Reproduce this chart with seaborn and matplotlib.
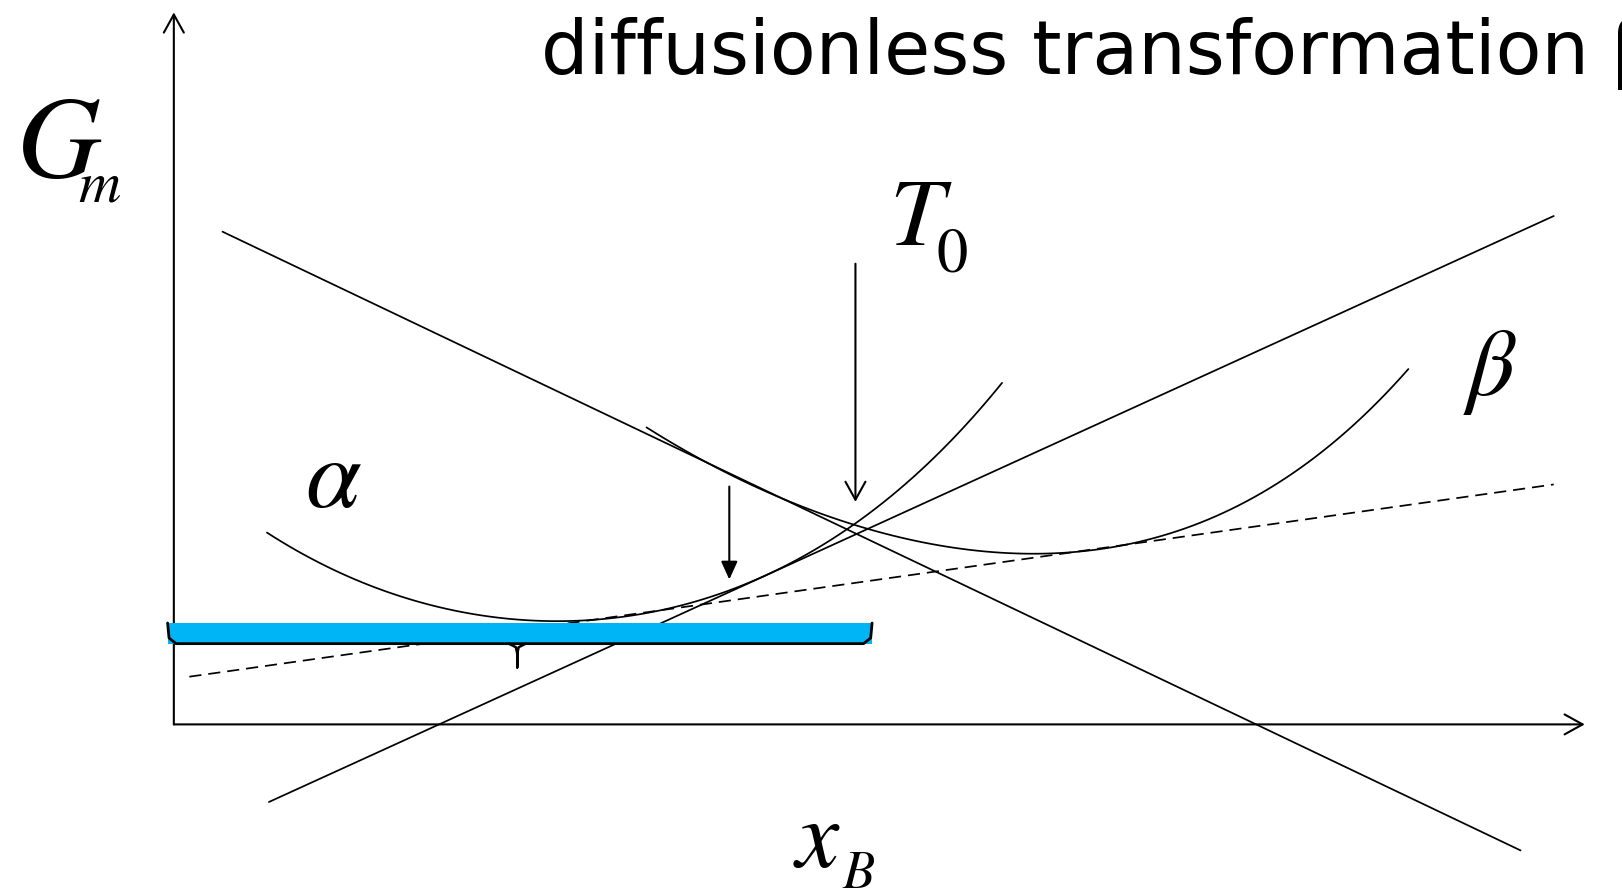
import numpy as np
import pandas as pd
import seaborn as sns
import matplotlib.pyplot as plt

# free energy curves (x_B, G_m)
alpha_x = [0.066, 0.097, 0.133, 0.170, 0.207, 0.243, 0.265, 0.287, 0.317,
           0.353, 0.390, 0.419, 0.449, 0.480, 0.515, 0.551, 0.587]
alpha_g = [0.269, 0.234, 0.200, 0.174, 0.156, 0.147, 0.145, 0.146, 0.152,
           0.164, 0.185, 0.209, 0.239, 0.277, 0.332, 0.400, 0.479]

beta_x = [0.335, 0.372, 0.408, 0.446, 0.480, 0.519, 0.556, 0.585, 0.600,
          0.614, 0.636, 0.657, 0.688, 0.724, 0.761, 0.798, 0.834, 0.875]
beta_g = [0.416, 0.375, 0.339, 0.306, 0.281, 0.259, 0.246, 0.241, 0.240,
          0.240, 0.243, 0.247, 0.259, 0.281, 0.314, 0.358, 0.416, 0.500]

# straight lines (end points)
desc_x, desc_g = [0.0345, 0.9545], [0.692, -0.177]
asc_x, asc_g = [0.0674, 0.978], [-0.109, 0.714]
common_x, common_g = [0.011, 0.978], [0.067, 0.337]

# arrows
t0_x, t0_g = 0.4831, [0.647, 0.3125]
small_x, small_g = 0.3937, [0.334, 0.2035]

# blue brace
brace_left, brace_right = -0.0044, 0.4949
brace_bottom, brace_top = 0.1134, 0.1424
brace_mid, brace_tip = 0.2434, 0.080

sns.set_style("white")
plt.rcParams["mathtext.fontset"] = "stix"
plt.rcParams["font.family"] = ["DejaVu Sans"]
plt.rcParams["text.color"] = "black"

fig = plt.figure(figsize=(16.22, 8.91), dpi=100)
ax = fig.add_axes([0, 0, 1, 1])

lw = 1.25
# alpha and beta curves (smooth fit through the read points)
sns.regplot(x=alpha_x, y=alpha_g, order=4, ci=None, scatter=False, ax=ax,
            line_kws=dict(color="black", lw=lw))
sns.regplot(x=beta_x, y=beta_g, order=4, ci=None, scatter=False, ax=ax,
            line_kws=dict(color="black", lw=lw))

sns.lineplot(x=desc_x, y=desc_g, color="black", lw=lw, ax=ax)
sns.lineplot(x=asc_x, y=asc_g, color="black", lw=lw, ax=ax)
sns.lineplot(x=common_x, y=common_g, color="black", lw=lw,
             linestyle=(0, (7, 4)), ax=ax)

open_head = dict(arrowstyle="->,head_length=0.65,head_width=0.36",
                 lw=1.5, color="black", shrinkA=0, shrinkB=0,
                 mutation_scale=20)

# axes with arrow heads
ax.annotate("", xy=(0, 1.0), xytext=(0, 0), arrowprops=open_head)
ax.annotate("", xy=(1.0, 0), xytext=(0, 0), arrowprops=open_head)

# T0 arrow and small arrow
ax.annotate("", xy=(t0_x, t0_g[1]), xytext=(t0_x, t0_g[0]),
            arrowprops=open_head)
ax.annotate("", xy=(small_x, small_g[1]), xytext=(small_x, small_g[0]),
            arrowprops=dict(arrowstyle="-|>,head_length=0.55,head_width=0.25",
                            lw=1.5, color="black", shrinkA=0, shrinkB=0,
                            mutation_scale=20))

# blue brace
ax.fill_between([brace_left, brace_right], brace_bottom, brace_top,
                color="#00B5F5", lw=0, zorder=5)
ax.plot([brace_left, brace_left + 0.001, brace_left + 0.006,
         brace_right - 0.006, brace_right - 0.001, brace_right],
        [brace_top, brace_bottom + 0.008, brace_bottom,
         brace_bottom, brace_bottom + 0.008, brace_top],
        color="black", lw=2.0, zorder=6, solid_joinstyle="round")
ax.plot([brace_mid - 0.006, brace_mid - 0.001, brace_mid, brace_mid,
         brace_mid, brace_mid + 0.001, brace_mid + 0.006],
        [brace_bottom, brace_bottom - 0.005, brace_bottom - 0.014, brace_tip,
         brace_bottom - 0.014, brace_bottom - 0.005, brace_bottom],
        color="black", lw=1.8, zorder=6)

# labels (main symbol + subscript drawn separately)
ax.text(-0.1122, 0.7674, r"$G$", fontsize=84, ha="left", va="baseline")
ax.text(-0.0682, 0.734, r"$m$", fontsize=42, ha="left", va="baseline")
ax.text(0.507, 0.673, r"$T$", fontsize=70, ha="left", va="baseline")
ax.text(0.5403, 0.6366, r"$0$", fontsize=45, ha="left", va="baseline")
ax.text(0.0931, 0.305, r"$\alpha$", fontsize=72, ha="left", va="baseline")
ax.text(0.9135, 0.462, r"$\beta$", fontsize=68, ha="left", va="baseline")
ax.text(0.439, -0.2006, r"$x$", fontsize=70, ha="left", va="baseline")
ax.text(0.4736, -0.2297, r"$B$", fontsize=38, ha="left", va="baseline")

fig.text(0.3335, 0.9164, "diffusionless transformation", fontsize=54,
         ha="left", va="baseline", family="DejaVu Sans")
fig.text(0.9935, 0.9164, "β", fontsize=54,
         ha="left", va="baseline", family="DejaVu Sans")

ax.set_xlim(-0.1232, 1.0264)
ax.set_ylim(-0.2340, 1.0174)
ax.axis("off")

plt.savefig("out.png", dpi=100)
